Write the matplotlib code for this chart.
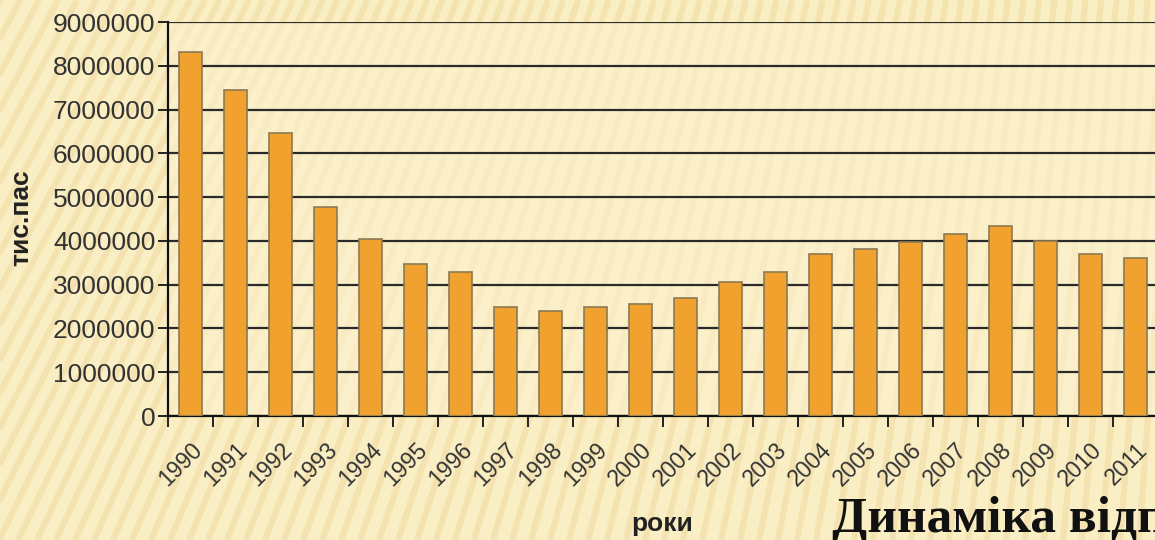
import numpy as np
import matplotlib
matplotlib.use("Agg")
import matplotlib.pyplot as plt
from matplotlib.lines import Line2D

years = [str(y) for y in range(1990, 2012)]
passengers = [8310000, 7450000, 6460000, 4770000, 4040000, 3470000, 3290000,
              2490000, 2390000, 2490000, 2550000, 2700000, 3050000, 3290000,
              3700000, 3810000, 3980000, 4160000, 4350000, 3990000, 3700000, 3600000]
y_ticks = list(range(0, 9000001, 1000000))
y_label = "тис.пас"
x_label = "роки"
title_text = "Динаміка відправлення"

W, H = 1155, 540
fig = plt.figure(figsize=(W / 100, H / 100), dpi=100)
fig.patch.set_facecolor("#FAEEC4")

# diagonal background stripes (decoration)
for x0 in np.arange(-400, 1300, 19):
    ang = np.deg2rad(62 + 24 * max(0, min(1, (x0 + 100) / 1250)))
    x1 = x0 + H / np.tan(ang)
    fig.add_artist(Line2D([x0 / W, x1 / W], [0, 1], transform=fig.transFigure,
                          color="#E9D18C", lw=4.5, alpha=0.35, zorder=0,
                          solid_capstyle="butt"))

left, bottom = 168 / W, (H - 416) / H
width, height = 990 / W, 394 / H
ax = fig.add_axes([left, bottom, width, height])
ax.set_facecolor((0.99, 0.95, 0.81, 0.6))

x = np.arange(len(years))
ax.bar(x, passengers, width=0.5, color="#F0A12E", edgecolor="#8C7A55",
       linewidth=1.2, zorder=3)

ax.set_xlim(-0.5, len(years) - 0.5)
ax.set_ylim(0, 9000000)
ax.set_yticks(y_ticks)
ax.set_yticklabels([str(v) for v in y_ticks], fontsize=19, color="#333333",
                   family="Liberation Sans")
ax.yaxis.grid(True, color="#2a2a2a", lw=1.6, zorder=1)
ax.set_axisbelow(True)

ax.set_xticks(x)
ax.set_xticklabels(years, rotation=45, ha="right", rotation_mode="anchor",
                   fontsize=16.5, color="#333333", family="Liberation Sans")
ax.tick_params(axis="x", length=0, pad=16)
ax.set_xticks(np.arange(-0.5, len(years) + 0.5, 1), minor=True)
ax.tick_params(axis="x", which="minor", length=8, width=1.4, color="#222222", direction="out")
ax.tick_params(axis="y", length=7, width=1.4, color="#222222", pad=2)

for s in ["top", "right"]:
    ax.spines[s].set_visible(False)
for s in ["left", "bottom"]:
    ax.spines[s].set_color("#111111")
    ax.spines[s].set_linewidth(1.6)

fig.text(21 / W, 1 - 218 / H, y_label, rotation=90, ha="center", va="center",
         fontsize=19, fontweight="bold", color="#222222", family="Liberation Sans")
fig.text(662 / W, 1 - 524 / H, x_label, ha="center", va="center",
         fontsize=19, fontweight="bold", color="#222222", family="Liberation Sans")
fig.text(832 / W, 1 - 532 / H, title_text, ha="left", va="baseline",
         fontsize=37, fontweight="bold", color="#111111", family="Liberation Serif")

fig.savefig("out.png", dpi=100, facecolor=fig.get_facecolor())
